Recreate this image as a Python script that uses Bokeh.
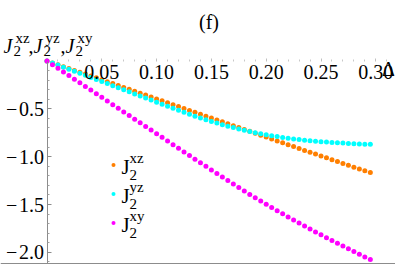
from bokeh.plotting import figure
from bokeh.models import (LinearAxis, FixedTicker, Range1d, Label, Legend,
                          LegendItem, Span, ColumnDataSource)
from bokeh.embed import file_html
from bokeh.resources import INLINE

# ---------------- data ----------------
delta = [0.000, 0.005, 0.010, 0.015, 0.020, 0.025, 0.030, 0.035, 0.040, 0.045,
         0.050, 0.055, 0.060, 0.065, 0.070, 0.075, 0.080, 0.085, 0.090, 0.095,
         0.100, 0.105, 0.110, 0.115, 0.120, 0.125, 0.130, 0.135, 0.140, 0.145,
         0.150, 0.155, 0.160, 0.165, 0.170, 0.175, 0.180, 0.185, 0.190, 0.195,
         0.200, 0.205, 0.210, 0.215, 0.220, 0.225, 0.230, 0.235, 0.240, 0.245,
         0.250, 0.255, 0.260, 0.265, 0.270, 0.275, 0.280, 0.285, 0.290, 0.295]

j_xz = [0.000, -0.020, -0.039, -0.059, -0.078, -0.098, -0.117, -0.137, -0.156, -0.176,
        -0.196, -0.216, -0.236, -0.256, -0.276, -0.296, -0.316, -0.336, -0.356, -0.376,
        -0.396, -0.416, -0.436, -0.456, -0.476, -0.496, -0.516, -0.536, -0.556, -0.576,
        -0.596, -0.616, -0.636, -0.656, -0.676, -0.695, -0.715, -0.735, -0.755, -0.775,
        -0.795, -0.815, -0.835, -0.855, -0.875, -0.894, -0.914, -0.934, -0.953, -0.973,
        -0.992, -1.012, -1.031, -1.051, -1.070, -1.090, -1.109, -1.128, -1.147, -1.166]

j_yz = [0.000, -0.021, -0.043, -0.064, -0.086, -0.107, -0.129, -0.150, -0.172, -0.193,
        -0.215, -0.236, -0.258, -0.279, -0.301, -0.322, -0.344, -0.365, -0.387, -0.408,
        -0.430, -0.451, -0.472, -0.493, -0.514, -0.535, -0.556, -0.576, -0.595, -0.614,
        -0.632, -0.649, -0.665, -0.681, -0.696, -0.710, -0.724, -0.737, -0.749, -0.760,
        -0.771, -0.781, -0.790, -0.799, -0.807, -0.814, -0.821, -0.827, -0.833, -0.838,
        -0.843, -0.847, -0.851, -0.855, -0.858, -0.861, -0.864, -0.867, -0.869, -0.871]

j_xy = [0.000, -0.038, -0.076, -0.114, -0.152, -0.190, -0.228, -0.266, -0.304, -0.342,
        -0.380, -0.418, -0.456, -0.494, -0.532, -0.570, -0.608, -0.646, -0.684, -0.722,
        -0.760, -0.798, -0.836, -0.874, -0.912, -0.950, -0.988, -1.026, -1.063, -1.101,
        -1.138, -1.175, -1.212, -1.249, -1.286, -1.322, -1.358, -1.394, -1.430, -1.464,
        -1.498, -1.531, -1.564, -1.597, -1.629, -1.661, -1.693, -1.724, -1.755, -1.786,
        -1.816, -1.846, -1.876, -1.905, -1.934, -1.963, -1.991, -2.019, -2.047, -2.075]

x_ticks = [0.05, 0.10, 0.15, 0.20, 0.25, 0.30]
x_tick_labels = ["0.05", "0.10", "0.15", "0.20", "0.25", "0.30"]
x_minor = [0.01, 0.02, 0.03, 0.04, 0.06, 0.07, 0.08, 0.09, 0.11, 0.12, 0.13, 0.14,
           0.16, 0.17, 0.18, 0.19, 0.21, 0.22, 0.23, 0.24, 0.26, 0.27, 0.28, 0.29, 0.31]
y_ticks = [-2.0, -1.5, -1.0, -0.5]
y_tick_labels = ["\u2212\u200a2.0", "\u2212\u200a1.5", "\u2212\u200a1.0", "\u2212\u200a0.5"]
y_minor = [-2.1, -1.9, -1.8, -1.7, -1.6, -1.4, -1.3, -1.2, -1.1, -0.9, -0.8, -0.7,
           -0.6, -0.4, -0.3, -0.2, -0.1]

series_names = ["xz", "yz", "xy"]
colors = ["#ff7f00", "#00ffff", "#ff00ff"]

# ---------------- figure ----------------
W, H = 395, 264
SERIF = "Liberation Serif"
X0, X1 = -0.04243, 0.31797          # frame covers the whole canvas
Y0, Y1 = -2.1264, 0.6322
Y_BOTTOM_LINE = -2.116

p = figure(width=W, height=H, output_backend="svg", toolbar_location=None,
           x_range=Range1d(X0, X1), y_range=Range1d(Y0, Y1),
           x_axis_location=None, y_axis_location=None, title=None,
           min_border_left=0, min_border_right=0, min_border_top=0,
           min_border_bottom=0)
p.outline_line_color = None
p.xgrid.visible = False
p.ygrid.visible = False
p.background_fill_color = "white"
p.border_fill_color = "white"

xaxis = LinearAxis(fixed_location=0, bounds=(0, X1),
                   ticker=FixedTicker(ticks=x_ticks, minor_ticks=x_minor))
xaxis.major_label_overrides = dict(zip(x_ticks, x_tick_labels))
xaxis.axis_line_alpha = 0
xaxis.major_tick_in = 3
xaxis.major_tick_out = 0
xaxis.minor_tick_in = 2
xaxis.minor_tick_out = 0
xaxis.major_tick_line_color = "#c0c0c0"
xaxis.minor_tick_line_color = "#c8c8c8"
xaxis.major_label_text_font = SERIF
xaxis.major_label_text_font_size = "20px"
xaxis.major_label_text_color = "black"
xaxis.major_label_standoff = 4
p.add_layout(xaxis, "below")

yaxis = LinearAxis(fixed_location=0, bounds=(Y0, 0),
                   ticker=FixedTicker(ticks=y_ticks, minor_ticks=y_minor))
yaxis.major_label_overrides = dict(zip(y_ticks, y_tick_labels))
yaxis.axis_line_color = "#8c8c8c"
yaxis.major_tick_in = 4
yaxis.major_tick_out = 0
yaxis.minor_tick_in = 2
yaxis.minor_tick_out = 0
yaxis.major_tick_line_color = "#8c8c8c"
yaxis.minor_tick_line_color = "#a0a0a0"
yaxis.major_label_text_font = SERIF
yaxis.major_label_text_font_size = "20px"
yaxis.major_label_text_color = "black"
yaxis.major_label_standoff = 3
p.add_layout(yaxis, "left")

p.add_layout(Span(location=Y_BOTTOM_LINE, dimension="width",
                  line_color="#8c8c8c", line_width=1))

src = ColumnDataSource(dict(x=delta, xz=j_xz, yz=j_yz, xy=j_xy))
renderers = []
for name, col in zip(series_names, colors):
    r = p.scatter("x", name, source=src, size=5, color=col, line_color=None)
    renderers.append(r)

# legend markers from the library; the J_2^.. texts are placed as labels below
legend = Legend(items=[LegendItem(label=" ", renderers=[r]) for r in renderers],
                location=(108, 27.5), padding=0, margin=0, spacing=0,
                glyph_width=10, glyph_height=29, label_standoff=3, label_height=29,
                label_width=10, label_text_font=SERIF, label_text_font_size="20px",
                border_line_alpha=0, background_fill_alpha=0)
p.add_layout(legend)


def lab(text, x, y, size="20px", style="normal", align="left"):
    p.add_layout(Label(x=x, y=y, x_units="canvas", y_units="canvas", text=text,
                       text_font=SERIF, text_font_size=size, text_font_style=style,
                       text_align=align, text_baseline="alphabetic",
                       text_color="black"))


# legend texts J_2^xz, J_2^yz, J_2^xy
for i, name in enumerate(series_names):
    dy = 29 * i
    lab("J", 121, 166.5 + dy, size="21px")
    lab("2", 129, 174.5 + dy, size="15px")
    lab(name, 129, 157 + dy, size="15px")

# label of the vertical axis: J_2^xz, J_2^yz, J_2^xy
for name, x0 in zip(series_names, [3, 33, 65]):
    lab("J", x0, 45, style="italic")
    lab("2", x0 + 10, 50, size="15px")
    lab(name, x0 + 12, 37, size="15px")
lab(",", 28, 45)
lab(",", 60, 45)

# panel title and horizontal axis label
lab("(f)", 208.5, 21.5, align="center")
lab("\u0394", 388, 68, align="center")

open("out.html", "w").write(file_html(p, INLINE))
